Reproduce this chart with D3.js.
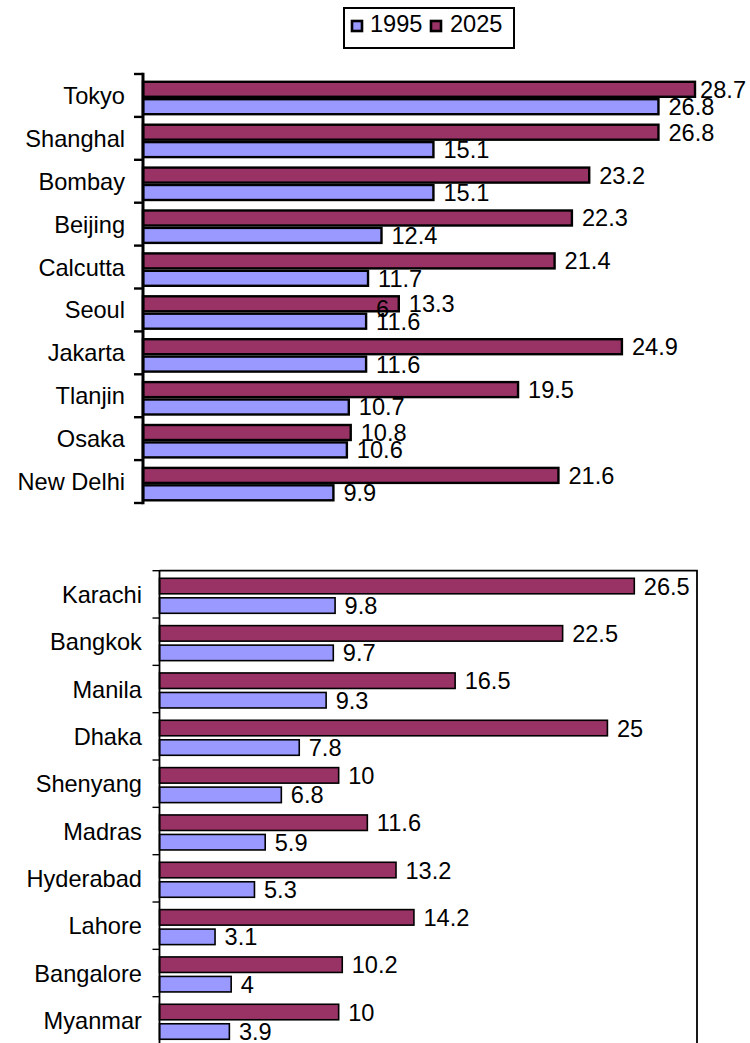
<!DOCTYPE html>
<html>
<head>
<meta charset="utf-8">
<script src="https://cdn.jsdelivr.net/npm/d3@7"></script>
<style>
  html, body { margin: 0; padding: 0; background: #fff; }
  svg { display: block; }
  text { font-family: "Liberation Sans", Arial, sans-serif; fill: #000; }
</style>
</head>
<body>
<svg id="chart" width="750" height="1043"></svg>
<script>
// Urban agglomerations, population in millions
const seriesNames = ["1995", "2025"];
const seriesColors = { "1995": "#9999FF", "2025": "#993366" };

const citiesTop = ["Tokyo", "Shanghal", "Bombay", "Beijing", "Calcutta", "Seoul", "Jakarta", "Tlanjin", "Osaka", "New Delhi"];
const pop1995Top = [26.8, 15.1, 15.1, 12.4, 11.7, 11.6, 11.6, 10.7, 10.6, 9.9];
const pop2025Top = [28.7, 26.8, 23.2, 22.3, 21.4, 13.3, 24.9, 19.5, 10.8, 21.6];

const citiesBottom = ["Karachi", "Bangkok", "Manila", "Dhaka", "Shenyang", "Madras", "Hyderabad", "Lahore", "Bangalore", "Myanmar"];
const pop1995Bottom = [9.8, 9.7, 9.3, 7.8, 6.8, 5.9, 5.3, 3.1, 4, 3.9];
const pop2025Bottom = [26.5, 22.5, 16.5, 25, 10, 11.6, 13.2, 14.2, 10.2, 10];

const valueDomain = [0, 30];
const FS = 23.6;

const svg = d3.select("#chart");
svg.append("rect").attr("width", 750).attr("height", 1043).attr("fill", "#fff");

function drawPanel(cfg) {
  const g = svg.append("g");
  const x = d3.scaleLinear().domain(valueDomain).range([cfg.x0, cfg.x1]);
  const y = d3.scaleBand().domain(cfg.cities).range([cfg.y0, cfg.y1]).padding(0);
  const inner = d3.scaleBand().domain(["2025", "1995"])
    .range(cfg.innerRange).paddingInner(cfg.innerPad).paddingOuter(0);
  const rows = cfg.cities.map((c, i) => ({ city: c, "1995": cfg.v1995[i], "2025": cfg.v2025[i] }));

  // plot-area frame (top and right edges)
  if (cfg.frame) {
    g.append("path")
      .attr("d", `M${cfg.x0},${cfg.y0}H${cfg.x1}V${cfg.y1 + 5}`)
      .attr("fill", "none").attr("stroke", "#000").attr("stroke-width", cfg.frameW);
  }

  const drawSeries = (key) => {
    g.append("g").selectAll("rect").data(rows).join("rect")
      .attr("x", x(0))
      .attr("y", d => y(d.city) + inner(key))
      .attr("width", d => x(d[key]) - x(0))
      .attr("height", inner.bandwidth())
      .attr("fill", seriesColors[key])
      .attr("stroke", "#000")
      .attr("stroke-width", cfg.barStroke);
  };

  drawSeries("2025");
  if (cfg.afterFirstSeries) cfg.afterFirstSeries(g, x, y, inner);
  drawSeries("1995");

  // value labels
  ["2025", "1995"].forEach(key => {
    g.append("g").selectAll("text").data(rows).join("text")
      .attr("x", d => x(d[key]) + cfg.valuePad)
      .attr("y", d => y(d.city) + inner(key) + inner.bandwidth() / 2)
      .attr("dy", "0.36em")
      .attr("font-size", FS)
      .text(d => String(d[key]))
      .each(function () {
        const w = this.getComputedTextLength();
        const xx = +this.getAttribute("x");
        if (xx + w > cfg.labelMaxRight) this.setAttribute("x", cfg.labelMaxRight - w);
      });
  });

  // category axis: labels centred on each band
  const axis = g.append("g")
    .attr("transform", `translate(${cfg.x0},0)`)
    .call(d3.axisLeft(y).tickSize(0).tickPadding(cfg.labelPad));
  axis.select(".domain").remove();
  axis.selectAll("text")
    .attr("font-size", FS)
    .attr("font-family", '"Liberation Sans", Arial, sans-serif')
    .attr("dy", "0.36em");

  // tick marks between categories
  const bounds = cfg.cities.map(c => y(c)).concat([cfg.y1]);
  g.append("g").selectAll("line").data(bounds).join("line")
    .attr("x1", cfg.x0 - cfg.tickLen).attr("x2", cfg.x0)
    .attr("y1", d => d).attr("y2", d => d)
    .attr("stroke", "#000").attr("stroke-width", cfg.tickW);

  g.append("line")
    .attr("x1", cfg.x0).attr("x2", cfg.x0)
    .attr("y1", cfg.y0 - cfg.tickW / 2).attr("y2", cfg.y1 + cfg.tickW / 2)
    .attr("stroke", "#000").attr("stroke-width", cfg.axisW);
}

drawPanel({
  cities: citiesTop, v1995: pop1995Top, v2025: pop2025Top,
  x0: 143, x1: 720, y0: 74, y1: 503,
  innerRange: [7.8, 40.2], innerPad: 0.138, barStroke: 2.4,
  axisW: 3, tickW: 2.4, tickLen: 9, labelPad: 18, valuePad: 10,
  labelMaxRight: 746, frame: false,
  afterFirstSeries: (g, x, y, inner) => {
    // stray label fragment tucked between the Seoul bars
    const i = citiesTop.indexOf("Seoul");
    g.append("text")
      .attr("x", x(pop1995Top[i]) + 10)
      .attr("y", y("Seoul") + inner("1995") + inner.bandwidth() / 2 + 8.3 - 13)
      .attr("font-size", FS)
      .text("6");
  }
});

drawPanel({
  cities: citiesBottom, v1995: pop1995Bottom, v2025: pop2025Bottom,
  x0: 159.5, x1: 697, y0: 570.7, y1: 1044,
  innerRange: [7.6, 42.6], innerPad: 0.205, barStroke: 1.6,
  axisW: 1.8, tickW: 1.4, tickLen: 7, labelPad: 17.6, valuePad: 9.5,
  labelMaxRight: 746, frame: true, frameW: 1.8
});

// legend
const legend = svg.append("g");
legend.append("rect")
  .attr("x", 344).attr("y", 8).attr("width", 170).attr("height", 40)
  .attr("fill", "#fff").attr("stroke", "#000").attr("stroke-width", 2);
const legendItems = [
  { key: "1995", sx: 352, tx: 370 },
  { key: "2025", sx: 431, tx: 450 }
];
legendItems.forEach(it => {
  legend.append("rect")
    .attr("x", it.sx).attr("y", 21).attr("width", 10).attr("height", 10)
    .attr("fill", seriesColors[it.key]).attr("stroke", "#000").attr("stroke-width", 2.6);
  legend.append("text")
    .attr("x", it.tx).attr("y", 31.7)
    .attr("font-size", FS)
    .text(it.key);
});
</script>
</body>
</html>
